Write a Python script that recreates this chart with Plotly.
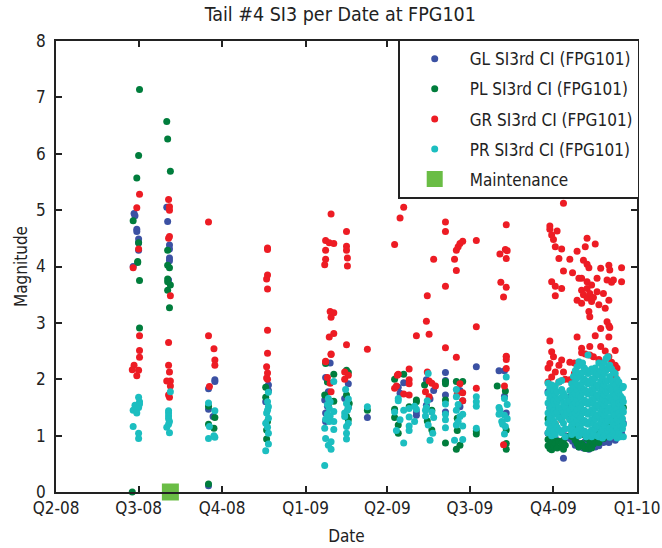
import plotly.graph_objects as go

# ---------------- data ----------------
tick_dates = ["2008-04-01", "2008-07-01", "2008-10-01", "2009-01-01",
              "2009-04-01", "2009-07-01", "2009-10-01", "2010-01-01"]
tick_labels = ["Q2-08", "Q3-08", "Q4-08", "Q1-09", "Q2-09", "Q3-09", "Q4-09", "Q1-10"]

# GL SI3rd CI (blue)
GL_dates = ["2008-06-26", "2008-06-27", "2008-06-29", "2008-07-01", "2008-06-25",
            "2008-08-01", "2008-08-02", "2008-08-04", "2008-08-03",
            "2008-09-23", "2008-09-16", "2008-09-21",
            "2008-11-21", "2008-11-18",
            "2009-01-28", "2009-01-23", "2009-01-26", "2009-01-22", "2009-01-25",
            "2009-02-17", "2009-02-13", "2009-03-10",
            "2009-04-13", "2009-04-15", "2009-04-19", "2009-05-03",
            "2009-05-14", "2009-05-22", "2009-05-18",
            "2009-06-04", "2009-06-20", "2009-06-23", "2009-07-08",
            "2009-08-02", "2009-08-08", "2009-08-10",
            "2009-09-25", "2009-09-27", "2009-09-29", "2009-10-01", "2009-10-03",
            "2009-10-07", "2009-10-10", "2009-10-12", "2009-10-14",
            "2009-10-19", "2009-10-22", "2009-10-25", "2009-10-27", "2009-10-29",
            "2009-11-01", "2009-11-03", "2009-11-05", "2009-11-07", "2009-11-09",
            "2009-11-10", "2009-11-12", "2009-11-16", "2009-11-18", "2009-11-20",
            "2009-11-22", "2009-11-25", "2009-11-27", "2009-11-29", "2009-12-01",
            "2009-12-04", "2009-12-08", "2009-12-10", "2009-12-12", "2009-12-15",
            "2009-12-17"]
GL_values = [[4.94], [4.90], [4.66, 4.62], [4.49, 4.42, 4.29], [4.00],
             [5.05], [4.80], [4.38, 4.31, 4.15, 4.10], [3.76],
             [1.99, 1.96], [1.83, 1.47, 0.11], [1.34],
             [1.90, 1.80], [1.60],
             [2.29], [2.03, 1.40, 1.25], [1.78], [1.63], [1.52],
             [1.92, 1.50], [1.66], [1.32],
             [1.86], [1.75], [1.94], [1.36, 1.42],
             [1.99, 1.54], [1.80], [1.65],
             [2.12, 1.98, 1.72, 1.42], [1.51, 1.80], [1.62], [2.22],
             [2.15], [2.15, 1.70], [1.40],
             [1.78, 1.04], [1.50, 0.92], [1.62, 0.86], [1.20], [1.45, 0.95],
             [1.10], [0.88, 1.35], [0.60], [1.00],
             [1.69, 1.51, 0.95], [1.60, 0.90], [0.83, 1.20], [0.88], [0.80],
             [0.85, 1.05], [0.78], [0.90], [0.82], [0.76],
             [0.84], [0.80, 0.95], [0.80], [0.86], [0.82],
             [0.92], [0.88, 1.00], [0.92], [0.90], [0.88, 1.10],
             [0.95], [0.92, 1.12], [1.00], [1.05, 1.20], [1.16, 1.04],
             [1.22]]

# PL SI3rd CI (dark green)
PL_dates = ["2008-07-02", "2008-07-01", "2008-06-29", "2008-06-25", "2008-06-30", "2008-06-24",
            "2008-08-01", "2008-08-02", "2008-08-05", "2008-08-04",
            "2008-09-16", "2008-09-23", "2008-09-22",
            "2008-11-18", "2008-11-20", "2008-11-19",
            "2009-01-23", "2009-02-01", "2009-01-22", "2009-01-26", "2009-01-25",
            "2009-02-15", "2009-02-17", "2009-02-18", "2009-03-10",
            "2009-04-09", "2009-04-13", "2009-04-19", "2009-04-25", "2009-05-03",
            "2009-05-12", "2009-05-15", "2009-05-20",
            "2009-06-04", "2009-06-16", "2009-06-23", "2009-06-17", "2009-06-20",
            "2009-07-08", "2009-07-31", "2009-08-09", "2009-08-10",
            "2009-09-25", "2009-09-27", "2009-09-29", "2009-10-01", "2009-10-03",
            "2009-10-05", "2009-10-07", "2009-10-10", "2009-10-12", "2009-10-14",
            "2009-10-19", "2009-10-22", "2009-10-25", "2009-10-27", "2009-10-29",
            "2009-11-01", "2009-11-03", "2009-11-05", "2009-11-07", "2009-11-09",
            "2009-11-10", "2009-11-12", "2009-11-14", "2009-11-16", "2009-11-18",
            "2009-11-20", "2009-11-22", "2009-11-25", "2009-11-27", "2009-11-29",
            "2009-12-01", "2009-12-04", "2009-12-08", "2009-12-10", "2009-12-12",
            "2009-12-15", "2009-12-17"]
PL_values = [[7.14, 3.75, 2.91], [5.97, 4.42], [5.57], [4.81], [4.09, 4.07], [0.0],
             [6.57], [6.26, 4.29, 4.02, 3.78, 3.73, 3.58], [5.69, 3.67], [3.98, 3.27],
             [1.52, 1.20, 0.14], [1.32], [1.13],
             [1.86, 1.68], [1.25], [1.10, 0.94],
             [2.28], [2.09, 1.61], [1.72], [1.55, 1.35], [1.95],
             [2.16, 1.72, 1.34], [2.12, 1.28], [1.57], [1.45],
             [1.47, 1.32, 2.00], [1.19, 1.04], [2.09], [1.51], [1.60, 1.63],
             [1.90], [1.26], [1.10, 1.45],
             [1.96, 1.92, 1.63, 0.87], [1.96, 0.76], [1.96], [1.31, 1.09], [0.83],
             [1.03, 1.08], [1.88], [1.79], [1.10, 0.86, 0.76],
             [0.93, 0.82, 1.30], [0.77, 1.10], [0.88, 0.75], [0.80, 0.95], [0.85, 1.20],
             [0.78], [0.90], [0.80, 0.86], [0.76, 0.92], [0.83],
             [1.30, 1.00], [0.98, 1.15], [0.92], [0.86, 1.05], [0.80],
             [0.86], [0.82, 1.02], [0.77], [0.80, 0.95], [0.77],
             [0.85], [0.78, 0.92], [0.85], [0.90, 1.10], [0.95],
             [0.88], [0.98, 1.15], [0.95], [1.02], [1.00, 1.20],
             [1.05], [1.10], [1.30, 1.15], [1.40], [1.28, 1.50],
             [1.55, 1.48, 1.63, 1.40], [1.50]]

# GR SI3rd CI (red)
GR_dates = ["2008-07-02", "2008-06-29", "2008-07-01", "2008-06-25", "2008-06-26", "2008-06-24",
            "2008-08-03", "2008-08-04", "2008-08-05", "2008-08-01",
            "2008-09-16", "2008-09-22", "2008-09-23", "2008-09-17",
            "2008-11-20", "2008-11-19",
            "2009-01-29", "2009-01-23", "2009-01-27", "2009-02-01", "2009-01-22",
            "2009-01-28", "2009-01-25",
            "2009-02-15", "2009-02-16", "2009-02-13", "2009-02-17", "2009-03-10",
            "2009-04-09", "2009-04-15", "2009-04-19", "2009-05-03", "2009-04-13",
            "2009-04-25", "2009-04-11", "2009-04-12",
            "2009-05-15", "2009-05-14", "2009-05-17", "2009-05-22", "2009-05-20",
            "2009-05-24", "2009-05-13",
            "2009-06-04", "2009-06-16", "2009-06-18", "2009-06-20", "2009-06-23",
            "2009-06-14", "2009-06-17", "2009-07-08",
            "2009-08-10", "2009-08-03", "2009-08-09", "2009-08-11", "2009-08-04",
            "2009-08-07", "2009-08-08",
            "2009-09-25", "2009-09-27", "2009-09-29", "2009-10-01", "2009-10-03",
            "2009-10-05", "2009-10-07", "2009-10-10", "2009-10-12", "2009-10-14",
            "2009-10-19", "2009-10-22", "2009-10-24", "2009-10-27", "2009-10-29",
            "2009-11-01", "2009-11-03", "2009-11-05", "2009-11-07", "2009-11-09",
            "2009-11-10", "2009-11-12", "2009-11-14", "2009-11-16", "2009-11-18",
            "2009-11-20", "2009-11-22", "2009-11-25", "2009-11-27", "2009-11-29",
            "2009-12-01", "2009-12-02", "2009-12-04", "2009-12-06", "2009-12-08",
            "2009-12-10", "2009-12-15"]
GR_values = [[5.28, 2.77, 2.51, 2.39], [5.04, 2.06], [4.31, 2.16], [3.98], [2.25], [2.17],
             [5.19, 4.50, 2.65, 2.25, 1.72], [5.06, 5.00, 4.53, 2.13, 1.68], [3.48, 1.97, 1.88], [1.97],
             [4.79, 2.77], [2.54], [2.34, 2.25], [1.87],
             [4.33, 4.30, 3.85, 3.60, 2.87, 2.46, 2.11, 2.00], [3.78, 2.22, 2.02],
             [4.93, 3.10, 2.45, 2.44, 1.78], [4.46, 4.29, 4.13, 2.31, 2.32], [4.42, 2.75], [4.41, 3.18, 2.81], [4.03],
             [3.20, 1.93], [2.03],
             [4.62, 4.36, 4.29, 2.61], [4.15, 4.01], [2.13, 2.00], [2.07], [2.53],
             [4.39, 1.84], [4.86], [5.05, 1.74], [2.77], [2.09],
             [2.18, 1.99, 1.92, 1.72], [1.88], [2.07],
             [3.48, 2.13], [3.03], [2.80, 1.97, 1.69], [4.13], [1.93],
             [1.88], [1.78],
             [4.79, 4.62, 3.65, 2.56], [4.29, 3.93, 2.39], [4.35], [4.41, 1.92], [4.45, 1.76, 1.62],
             [4.13], [1.74], [4.46, 2.93, 1.84],
             [4.74, 4.14, 3.63, 2.41, 2.40, 2.35, 2.19], [4.22], [4.30], [4.28], [3.72],
             [3.46, 0.84], [1.88],
             [2.20, 1.95], [4.72, 4.66, 2.68, 2.28], [4.56, 3.73, 2.49, 2.04], [4.48, 2.40], [4.35, 3.65, 3.48, 2.13],
             [4.63], [4.14, 2.25, 1.95], [4.31, 3.61, 2.34, 1.28], [5.12, 3.92, 2.13], [2.00],
             [4.13, 1.99, 2.30], [3.89, 1.99], [2.29, 2.10], [4.27, 3.40, 2.75], [3.79],
             [3.79, 3.58, 3.35, 2.55, 2.47], [4.11, 3.50], [4.35, 2.45], [4.50, 4.04, 3.73, 3.61, 3.44], [3.98, 3.20],
             [3.52, 3.11, 2.58, 2.43], [3.67, 3.38], [3.45, 2.40], [4.40, 2.77], [3.79, 3.55],
             [3.32, 2.35], [3.97, 2.90, 2.58], [3.52], [3.26, 2.50], [3.76, 3.02],
             [4.02, 3.40, 2.95, 2.75, 2.40], [3.94, 2.92], [3.72, 2.30], [3.76], [2.51, 2.25, 2.04],
             [2.20], [3.98, 3.73, 1.63]]

# PR SI3rd CI (cyan)
PR_dates = ["2008-07-01", "2008-06-27", "2008-07-02", "2008-06-25", "2008-06-29",
            "2008-08-05", "2008-08-03", "2008-08-04", "2008-08-01",
            "2008-09-16", "2008-09-23", "2008-09-17", "2008-09-22",
            "2008-11-21", "2008-11-19", "2008-11-18", "2008-11-20",
            "2009-02-01", "2009-01-26", "2009-01-27", "2009-01-23", "2009-01-22",
            "2009-01-29", "2009-01-25", "2009-01-28",
            "2009-02-14", "2009-02-15", "2009-02-13", "2009-02-16", "2009-02-17",
            "2009-03-10",
            "2009-04-13", "2009-04-25", "2009-04-19", "2009-05-03", "2009-04-09",
            "2009-04-15", "2009-04-11", "2009-05-01",
            "2009-05-16", "2009-05-15", "2009-05-14", "2009-05-20", "2009-05-22",
            "2009-05-21", "2009-05-18", "2009-05-13",
            "2009-06-04", "2009-06-16", "2009-06-23", "2009-06-20", "2009-06-14",
            "2009-06-18", "2009-07-08",
            "2009-08-10", "2009-08-08", "2009-08-11", "2009-08-03", "2009-08-05",
            "2009-08-09", "2009-08-02", "2009-08-06",
            "2009-09-25", "2009-09-27", "2009-09-29", "2009-10-01", "2009-10-03",
            "2009-10-05", "2009-10-07", "2009-10-10", "2009-10-12", "2009-10-14",
            "2009-10-16",
            "2009-10-19", "2009-10-21", "2009-10-23", "2009-10-25", "2009-10-27",
            "2009-10-29", "2009-10-31", "2009-11-02", "2009-11-04", "2009-11-06",
            "2009-11-08", "2009-11-10", "2009-11-12", "2009-11-14", "2009-11-16",
            "2009-11-18", "2009-11-20", "2009-11-22", "2009-11-24", "2009-11-26",
            "2009-11-28", "2009-11-30", "2009-12-02", "2009-12-04", "2009-12-06",
            "2009-12-08", "2009-12-10", "2009-12-12", "2009-12-14", "2009-12-16",
            "2009-12-17"]
PR_values = [[1.68, 1.50, 1.04, 0.95], [1.54, 1.47], [1.60, 1.56], [1.45, 1.16], [1.48, 1.40],
             [1.78], [1.44, 1.40, 1.35, 1.20, 1.30], [1.25, 1.05], [1.15],
             [1.58, 0.95], [1.44, 0.97], [1.16], [1.00],
             [1.77, 1.51, 1.31, 1.04, 0.85], [1.40], [1.22, 0.73], [1.60, 1.45, 1.15],
             [1.96, 1.43, 1.25, 1.11], [1.66, 0.83], [1.48, 1.25], [1.29, 0.95], [1.13, 0.47],
             [0.89, 0.76], [1.55, 1.38], [1.35, 1.60],
             [1.82], [1.57, 1.16, 1.04, 0.94], [1.40, 1.34], [1.45], [1.65, 1.50, 1.22],
             [1.51],
             [1.66, 1.62], [1.48, 1.33, 1.17, 1.09], [1.45, 0.87], [1.47], [1.42],
             [1.28], [1.09], [1.52, 1.25],
             [2.10, 1.19], [1.62], [1.50], [1.42], [1.32],
             [1.04], [0.92], [1.45, 1.35],
             [1.56, 1.38, 1.28, 1.14], [1.82, 1.69, 1.45, 1.19], [1.38, 1.17, 0.93], [1.34], [0.92],
             [1.55, 1.25], [1.69, 1.52, 1.13, 1.60],
             [2.04], [1.66, 1.36, 1.03], [1.55, 1.30], [1.45], [1.25],
             [1.16], [1.50, 1.38], [1.20],
             [1.93, 1.75, 1.58, 1.40, 1.22, 1.05], [1.85, 1.66, 1.48, 1.31, 1.12],
             [1.90, 1.71, 1.52, 1.35, 1.18, 1.00], [1.80, 1.62, 1.44, 1.26, 1.08],
             [1.88, 1.72, 1.55, 1.38, 1.20, 1.02], [1.78, 1.60, 1.42, 1.15],
             [1.95, 1.65, 1.50, 1.32, 1.10], [1.98, 1.82, 1.68, 1.45, 1.28, 1.05],
             [1.75, 1.58, 1.40, 1.22], [1.70, 1.52, 1.35, 1.12, 0.98], [1.60, 1.42],
             [1.80, 1.62, 1.45, 1.28, 1.12], [1.92, 1.70, 1.52, 1.35, 1.18, 1.02],
             [2.05, 1.85, 1.66, 1.48, 1.30, 1.10], [2.15, 1.95, 1.75, 1.58, 1.40, 1.22, 1.05],
             [2.22, 2.02, 1.82, 1.65, 1.46, 1.28, 1.08], [2.31, 2.10, 1.90, 1.72, 1.55, 1.36, 1.18, 1.00],
             [2.25, 2.05, 1.86, 1.68, 1.50, 1.32, 1.12], [2.29, 2.12, 1.94, 1.76, 1.58, 1.40, 1.22, 1.04],
             [2.20, 2.00, 1.82, 1.63, 1.45, 1.27, 1.08], [2.16, 1.97, 1.79, 1.60, 1.42, 1.24, 1.05, 0.98],
             [2.43, 2.10, 1.92, 1.74, 1.56, 1.38, 1.20, 1.02], [2.14, 1.95, 1.77, 1.59, 1.41, 1.23, 1.06],
             [2.18, 2.00, 1.82, 1.64, 1.46, 1.28, 1.10, 0.98], [2.12, 1.93, 1.75, 1.57, 1.39, 1.21, 1.03],
             [2.20, 2.02, 1.84, 1.66, 1.48, 1.30, 1.12], [2.10, 1.90, 1.72, 1.54, 1.36, 1.18, 1.00],
             [2.29, 2.08, 1.88, 1.70, 1.52, 1.34, 1.16, 0.98], [2.15, 1.96, 1.78, 1.60, 1.42, 1.24, 1.05],
             [2.22, 2.02, 1.84, 1.66, 1.48, 1.30, 1.12, 0.96], [2.30, 2.10, 1.90, 1.72, 1.54, 1.36, 1.18, 1.00],
             [2.37, 2.16, 1.96, 1.78, 1.60, 1.42, 1.24, 1.06], [2.40, 2.20, 1.98, 1.80, 1.62, 1.44, 1.26, 1.08],
             [2.25, 2.05, 1.86, 1.68, 1.50, 1.32, 1.14, 0.97], [2.18, 1.98, 1.80, 1.62, 1.44, 1.26, 1.08],
             [2.13, 1.94, 1.76, 1.58, 1.40, 1.22, 1.04], [2.10, 1.90, 1.72, 1.54, 1.36, 1.18, 1.00],
             [2.00, 1.82, 1.65, 1.47, 1.29, 1.12, 0.96], [1.95, 1.76, 1.58, 1.40, 1.22, 1.05],
             [1.88, 1.70, 1.52, 1.34, 1.15, 0.98], [1.85, 1.66, 1.48, 1.30, 1.12],
             [1.87, 1.60, 1.42, 1.20, 0.98]]

# Maintenance events
MAINT_dates = ["2008-08-05"]
MAINT_values = [0.0]

series = [
    ("GL SI3rd CI (FPG101)", GL_dates, GL_values, "#3b51a3"),
    ("PL SI3rd CI (FPG101)", PL_dates, PL_values, "#007d3c"),
    ("GR SI3rd CI (FPG101)", GR_dates, GR_values, "#ed1c24"),
    ("PR SI3rd CI (FPG101)", PR_dates, PR_values, "#1cbec0"),
]

FONT = "Liberation Sans Narrow, Arial Narrow, DejaVu Sans Condensed, sans-serif"

fig = go.Figure()
for i, (name, dates, vals, color) in enumerate(series):
    xs, ys = [], []
    for d, vs in zip(dates, vals):
        for v in vs:
            xs.append(d)
            ys.append(v)
    fig.add_trace(go.Scatter(x=xs, y=ys, mode="markers", name=name, legendgroup=f"g{i}",
                             marker=dict(color=color, size=7, line=dict(width=0)),
                             cliponaxis=False))

fig.add_trace(go.Scatter(x=MAINT_dates, y=MAINT_values, mode="markers", name="Maintenance",
                         legendgroup="maint",
                         marker=dict(color="#6abd45", size=17, symbol="square", line=dict(width=0)),
                         cliponaxis=False))

fig.update_layout(
    width=662, height=548,
    margin=dict(l=56, r=25, t=41, b=56),
    paper_bgcolor="white", plot_bgcolor="white",
    font=dict(family=FONT, size=17, color="#222"),
    title=dict(text="Tail #4 SI3 per Date at FPG101", x=0.514, xanchor="center",
               y=0.975, yanchor="middle", font=dict(size=19.5, family=FONT, color="#222")),
    showlegend=True,
    hovermode=False,
    legend=dict(x=0.589, y=1.003, xanchor="left", yanchor="top",
                bgcolor="white", bordercolor="#222", borderwidth=1.5,
                font=dict(size=17, family=FONT, color="#222"),
                itemsizing="trace", itemwidth=60, tracegroupgap=5),
    xaxis=dict(type="date", range=["2008-04-01", "2010-01-01"],
               tickvals=tick_dates, ticktext=tick_labels,
               ticks="inside", ticklen=6, tickcolor="#222", tickwidth=1.5,
               showline=True, linecolor="#222", linewidth=1.5, mirror="ticks",
               showgrid=False, zeroline=False,
               title=dict(text="Date", standoff=13, font=dict(size=17, family=FONT)),
               automargin=False),
    yaxis=dict(range=[0, 8], tickvals=[0, 1, 2, 3, 4, 5, 6, 7, 8],
               ticks="inside", ticklen=6, tickcolor="#222", tickwidth=1.5,
               showline=True, linecolor="#222", linewidth=1.5, mirror="ticks",
               showgrid=False, zeroline=False, ticklabelstandoff=5,
               title=dict(text="Magnitude", standoff=4, font=dict(size=17, family=FONT)),
               automargin=False),
)

fig.write_html("out.html", config={"displayModeBar": False},
               post_script="document.body.style.margin='0px';")
